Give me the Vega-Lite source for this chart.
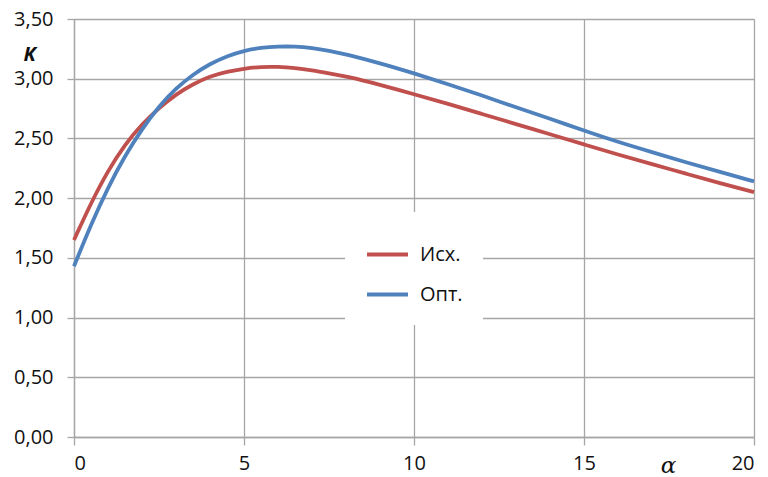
{
  "$schema": "https://vega.github.io/schema/vega-lite/v6.json",
  "width": 680,
  "height": 418,
  "autosize": "none",
  "padding": {"left": 74, "top": 19, "right": 14, "bottom": 40},
  "background": "white",
  "data": {
    "values": [
      {"x": 0, "K": 1.65, "s": "Исх."},
      {"x": 0.5, "K": 1.96, "s": "Исх."},
      {"x": 1, "K": 2.23, "s": "Исх."},
      {"x": 1.5, "K": 2.45, "s": "Исх."},
      {"x": 2, "K": 2.62, "s": "Исх."},
      {"x": 2.5, "K": 2.755, "s": "Исх."},
      {"x": 3, "K": 2.87, "s": "Исх."},
      {"x": 3.5, "K": 2.955, "s": "Исх."},
      {"x": 4, "K": 3.02, "s": "Исх."},
      {"x": 4.5, "K": 3.06, "s": "Исх."},
      {"x": 5, "K": 3.085, "s": "Исх."},
      {"x": 5.5, "K": 3.1, "s": "Исх."},
      {"x": 6, "K": 3.1, "s": "Исх."},
      {"x": 6.5, "K": 3.09, "s": "Исх."},
      {"x": 7, "K": 3.07, "s": "Исх."},
      {"x": 7.5, "K": 3.045, "s": "Исх."},
      {"x": 8, "K": 3.02, "s": "Исх."},
      {"x": 9, "K": 2.95, "s": "Исх."},
      {"x": 10, "K": 2.87, "s": "Исх."},
      {"x": 11, "K": 2.79, "s": "Исх."},
      {"x": 12, "K": 2.705, "s": "Исх."},
      {"x": 13, "K": 2.62, "s": "Исх."},
      {"x": 14, "K": 2.535, "s": "Исх."},
      {"x": 15, "K": 2.45, "s": "Исх."},
      {"x": 16, "K": 2.365, "s": "Исх."},
      {"x": 17, "K": 2.285, "s": "Исх."},
      {"x": 18, "K": 2.205, "s": "Исх."},
      {"x": 19, "K": 2.125, "s": "Исх."},
      {"x": 20, "K": 2.05, "s": "Исх."},
      {"x": 0, "K": 1.43, "s": "Опт."},
      {"x": 0.5, "K": 1.78, "s": "Опт."},
      {"x": 1, "K": 2.09, "s": "Опт."},
      {"x": 1.5, "K": 2.355, "s": "Опт."},
      {"x": 2, "K": 2.58, "s": "Опт."},
      {"x": 2.5, "K": 2.77, "s": "Опт."},
      {"x": 3, "K": 2.92, "s": "Опт."},
      {"x": 3.5, "K": 3.035, "s": "Опт."},
      {"x": 4, "K": 3.125, "s": "Опт."},
      {"x": 4.5, "K": 3.19, "s": "Опт."},
      {"x": 5, "K": 3.235, "s": "Опт."},
      {"x": 5.5, "K": 3.26, "s": "Опт."},
      {"x": 6, "K": 3.27, "s": "Опт."},
      {"x": 6.5, "K": 3.27, "s": "Опт."},
      {"x": 7, "K": 3.258, "s": "Опт."},
      {"x": 7.5, "K": 3.235, "s": "Опт."},
      {"x": 8, "K": 3.205, "s": "Опт."},
      {"x": 9, "K": 3.13, "s": "Опт."},
      {"x": 10, "K": 3.045, "s": "Опт."},
      {"x": 11, "K": 2.955, "s": "Опт."},
      {"x": 12, "K": 2.86, "s": "Опт."},
      {"x": 13, "K": 2.76, "s": "Опт."},
      {"x": 14, "K": 2.665, "s": "Опт."},
      {"x": 15, "K": 2.565, "s": "Опт."},
      {"x": 16, "K": 2.47, "s": "Опт."},
      {"x": 17, "K": 2.385, "s": "Опт."},
      {"x": 18, "K": 2.3, "s": "Опт."},
      {"x": 19, "K": 2.22, "s": "Опт."},
      {"x": 20, "K": 2.14, "s": "Опт."}
    ]
  },
  "mark": {"type": "line", "interpolate": "basis", "strokeWidth": 3.8},
  "encoding": {
    "x": {
      "field": "x",
      "type": "quantitative",
      "scale": {"domain": [0, 20], "nice": false},
      "axis": {
        "values": [0, 5, 10, 15, 20],
        "title": "α",
        "titleFont": "DejaVu Serif",
        "titleFontStyle": "italic",
        "titleFontWeight": "normal",
        "titleFontSize": 23,
        "titleColor": "#111",
        "titleX": 594,
        "titleY": 35,
        "titleAlign": "center",
        "titleBaseline": "alphabetic",
        "labelFont": "Open Sans",
        "labelFontSize": 20,
        "labelColor": "#111",
        "labelPadding": 8,
        "tickSize": 8,
        "tickColor": "#a6a6a6",
        "tickWidth": 1.3,
        "domainColor": "#a6a6a6",
        "domainWidth": 1.3,
        "gridColor": "#a6a6a6",
        "gridWidth": 1.3
      }
    },
    "y": {
      "field": "K",
      "type": "quantitative",
      "scale": {"domain": [0, 3.5], "nice": false},
      "axis": {
        "values": [0, 0.5, 1, 1.5, 2, 2.5, 3, 3.5],
        "labelExpr": "replace(format(datum.value, '.2f'), '.', ',')",
        "title": "K",
        "titleFont": "Open Sans",
        "titleFontStyle": "italic",
        "titleFontWeight": "bold",
        "titleFontSize": 20,
        "titleColor": "#111",
        "titleAngle": 0,
        "titleX": -45,
        "titleY": 41,
        "titleAlign": "center",
        "titleBaseline": "alphabetic",
        "labelFont": "Open Sans",
        "labelFontSize": 20,
        "labelColor": "#111",
        "labelPadding": 14,
        "tickSize": 7,
        "tickColor": "#a6a6a6",
        "tickWidth": 1.3,
        "domainColor": "#a6a6a6",
        "domainWidth": 1.3,
        "gridColor": "#a6a6a6",
        "gridWidth": 1.3
      }
    },
    "color": {
      "field": "s",
      "type": "nominal",
      "scale": {"domain": ["Исх.", "Опт."], "range": ["#c0504d", "#4f81bd"]},
      "legend": {
        "title": null,
        "orient": "none",
        "legendX": 271,
        "legendY": 193,
        "fillColor": "white",
        "padding": 20,
        "symbolType": "stroke",
        "symbolSize": 1681,
        "symbolStrokeWidth": 4,
        "rowPadding": 7,
        "labelFont": "Open Sans",
        "labelFontSize": 20,
        "labelColor": "#111",
        "labelOffset": 10
      }
    }
  },
  "config": {"view": {"stroke": null}}
}
